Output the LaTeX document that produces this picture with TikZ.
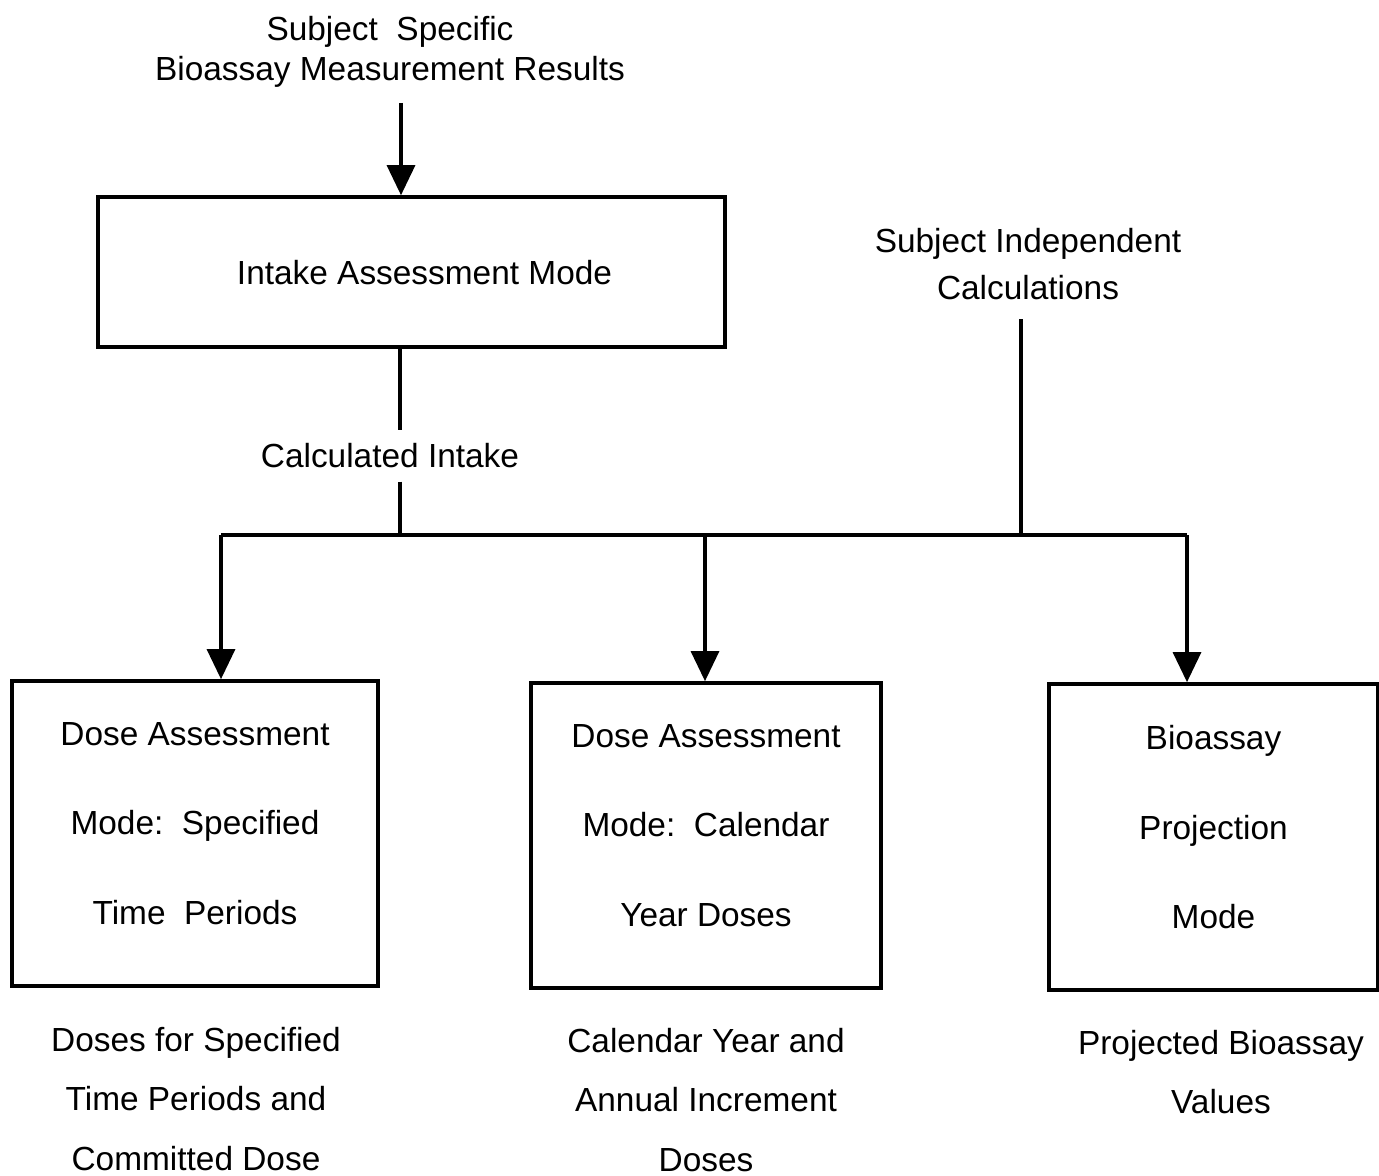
\documentclass[tikz,border=0pt]{standalone}
\usepackage{fontspec}
\setmainfont{Liberation Sans}
\usetikzlibrary{positioning,arrows.meta}

\begin{document}
\begin{tikzpicture}[x=0.01cm, y=-0.01cm, line width=0.9pt,
    box/.style={draw, line width=1pt, align=center, text depth=0.2cm, font=\fontsize{9.5}{25.5}\selectfont},
    lbl/.style={align=center, font=\fontsize{9.5}{16.8}\selectfont},
    arr/.style={-{Triangle[length=3mm,width=2.8mm]}}]
    \useasboundingbox (0,0) rectangle (1379,1176);

    % Inputs
    \node[lbl, font=\fontsize{9.5}{11.4}\selectfont] (meas) at (390,52) {Subject\ \ Specific\\Bioassay Measurement Results};
    \node[lbl, font=\fontsize{9.5}{13.6}\selectfont] (indep) at (1028,264) {Subject Independent\\Calculations};

    % Boxes
    \node[box, text depth=0pt, minimum width=6.27cm, minimum height=1.5cm] (intake) at (411.5,272) {\hspace{0.26cm}Intake Assessment Mode};
    \node[box, minimum width=3.66cm, minimum height=3.05cm] (dose1) at (195,833.5) {Dose Assessment\\Mode:\ \ Specified\\Time\ \ Periods};
    \node[box, minimum width=3.5cm, minimum height=3.05cm] (dose2) at (706,835.5) {Dose Assessment\\Mode:\ \ Calendar\\Year Doses};
    \node[box, minimum width=3.29cm, minimum height=3.06cm] (proj) at (1213.5,837) {Bioassay\\Projection\\Mode};

    % Outputs
    \node[lbl] (out1) at (196,1099) {Doses for Specified\\Time Periods and\\Committed Dose};
    \node[lbl] (out2) at (706,1100) {Calendar Year and\\Annual Increment\\Doses};
    \node[lbl] (out3) at (1221,1072) {Projected Bioassay\\Values};
    \node[lbl] (calc) at (390,456) {Calculated Intake};

    % Junctions
    \coordinate (measout) at (401,103);
    \coordinate (split) at (400,535);
    \coordinate (j1) at (221,535);
    \coordinate (j2) at (705,535);
    \coordinate (j3) at (1187,535);
    \coordinate (jind) at (1021,535);

    % Connectors
    \draw[arr] (measout) -- (measout |- intake.north);
    \draw (intake.south -| split) -- (calc.north -| split);
    \draw (calc.south -| split) -- (split);
    \draw ([yshift=-0.06cm]indep.south -| jind) -- (jind);
    \draw (j1) -- (j3);
    \draw[arr] (j1) -- (j1 |- dose1.north);
    \draw[arr] (j2) -- (j2 |- dose2.north);
    \draw[arr] (j3) -- (j3 |- proj.north);
\end{tikzpicture}
\end{document}
